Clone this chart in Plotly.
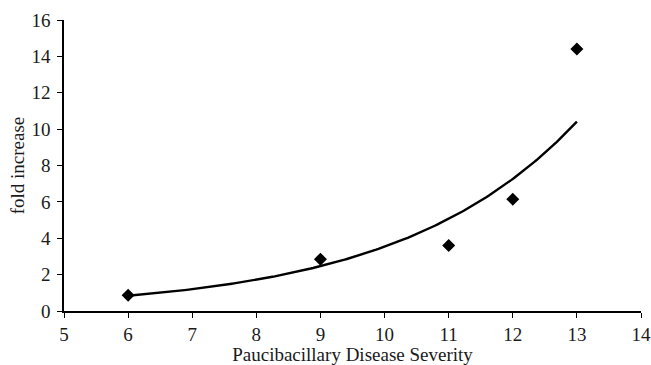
import numpy as np
import plotly.graph_objects as go

severity = [6, 9, 11, 12, 13]
fold_increase = [0.87, 2.85, 3.6, 6.15, 14.4]
x_ticks = list(range(5, 15))
y_ticks = list(range(0, 17, 2))

# exponential trendline (least squares on log values)
b, ln_a = np.polyfit(severity, np.log(fold_increase), 1)
xs = np.linspace(min(severity), max(severity), 200)
ys = np.exp(ln_a + b * xs)

fig = go.Figure()
fig.add_trace(go.Scatter(x=xs, y=ys, mode="lines",
                         line=dict(color="black", width=2.4), showlegend=False))
fig.add_trace(go.Scatter(x=severity, y=fold_increase, mode="markers",
                         marker=dict(symbol="diamond", size=10, color="black"),
                         showlegend=False))

family = "Liberation Serif, Times New Roman, serif"
fig.update_layout(
    width=651, height=365,
    margin=dict(l=64, r=10, t=20, b=54),
    paper_bgcolor="white", plot_bgcolor="white",
    font=dict(family=family, size=19, color="#1a1a1a"),
    xaxis=dict(range=[5, 14], tickvals=x_ticks, showgrid=False, zeroline=False,
               showline=True, linecolor="black", linewidth=1.5, automargin=False,
               ticks="outside", ticklen=5, tickcolor="black",
               tickfont=dict(size=19),
               title=dict(text="Paucibacillary Disease Severity", standoff=8,
                          font=dict(size=19))),
    yaxis=dict(range=[0, 16], tickvals=y_ticks, showgrid=False, zeroline=False,
               showline=True, linecolor="black", linewidth=1.5, automargin=False,
               ticks="outside", ticklen=5, tickcolor="black",
               tickfont=dict(size=19), ticklabelstandoff=3,
               title=dict(text="fold increase", standoff=2, font=dict(size=19))),
)
fig.write_html("out.html")
